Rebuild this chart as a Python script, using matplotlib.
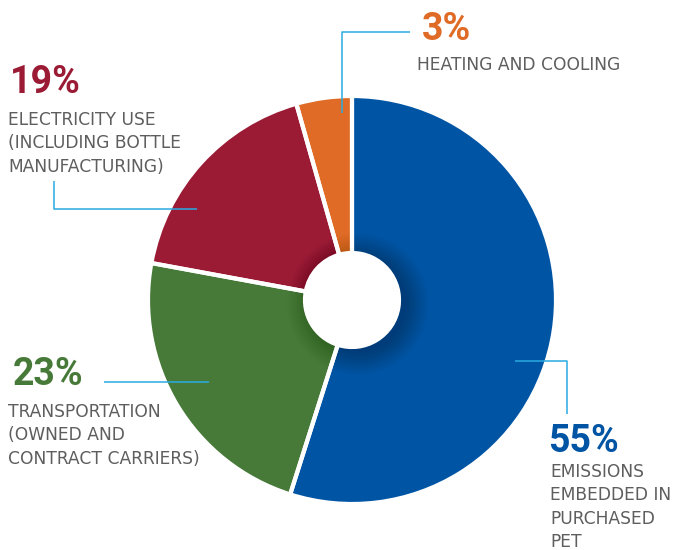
import matplotlib
matplotlib.use("Agg")
import matplotlib.pyplot as plt
from matplotlib.patches import Circle

# wedge shares as measured on the picture (labels keep the printed numbers)
categories = ["Emissions embedded in purchased PET", "Transportation",
              "Electricity use", "Heating and cooling"]
shares = [54.9, 23.0, 17.7, 4.4]
pct_labels = ["55%", "23%", "19%", "3%"]
colors = ["#0054a4", "#477a39", "#9b1b35", "#df6b26"]
label_lines = [
    ["EMISSIONS", "EMBEDDED IN", "PURCHASED", "PET"],
    ["TRANSPORTATION", "(OWNED AND", "CONTRACT CARRIERS)"],
    ["ELECTRICITY USE", "(INCLUDING BOTTLE", "MANUFACTURING)"],
    ["HEATING AND COOLING"],
]

W, H = 673, 550
LEAD = "#29abe2"
GRAY = "#5e5e5e"


def Y(py):
    # pixel row (from top) -> data y
    return H - py


def main():
    fig = plt.figure(figsize=(W / 100, H / 100), dpi=100)
    ax = fig.add_axes([0, 0, 1, 1])

    cx, cy, r, hole = 352, Y(300), 204, 47
    pie_kw = dict(startangle=90, counterclock=False, center=(cx, cy),
                  radius=r, frame=True)
    # faces first, then a soft shadow, then the white separators on top
    ax.pie(shares, colors=colors, wedgeprops=dict(width=r - hole, lw=0),
           **pie_kw)
    for i in range(24):
        ax.add_patch(Circle((cx + 6, cy - 4), hole + 1 + i, color="black",
                            alpha=0.007, lw=0, zorder=3))
    wedges, _ = ax.pie(shares, colors=["none"] * 4,
                       wedgeprops=dict(width=r - hole, edgecolor="white",
                                       linewidth=3), **pie_kw)
    for w in wedges:
        w.set_zorder(4)
    ax.add_patch(Circle((cx, cy), hole + 1, color="white", lw=0, zorder=4))

    ax.set_xlim(0, W)
    ax.set_ylim(0, H)
    ax.axis("off")

    # leader lines
    lk = dict(color=LEAD, lw=1.1, zorder=5, solid_capstyle="butt")
    ax.plot([342, 342, 410], [Y(113), Y(32), Y(32)], **lk)
    ax.plot([54, 54, 197], [Y(181), Y(209), Y(209)], **lk)
    ax.plot([104, 209], [Y(382), Y(382)], **lk)
    ax.plot([515, 567, 567], [Y(361), Y(361), Y(414)], **lk)

    # percent numbers and labels: (pct x, pct baseline, text x, first baseline)
    spots = [(548, 452, 550, 477), (13, 385, 8, 417),
             (10, 93, 8, 125), (422, 40, 417, 70)]
    for pct, col, lines, (px, pb, tx, tb) in zip(pct_labels, colors,
                                                 label_lines, spots):
        ax.text(px, Y(pb), pct, color=col, fontsize=27, fontweight="bold",
                family="Roboto", va="baseline", ha="left", zorder=6)
        for k, line in enumerate(lines):
            ax.text(tx, Y(tb + 23.3 * k), line, color=GRAY, fontsize=12.3,
                    family="DejaVu Sans", va="baseline", ha="left", zorder=6)

    fig.savefig("out.png", dpi=100, facecolor="white")


if __name__ == "__main__":
    main()
